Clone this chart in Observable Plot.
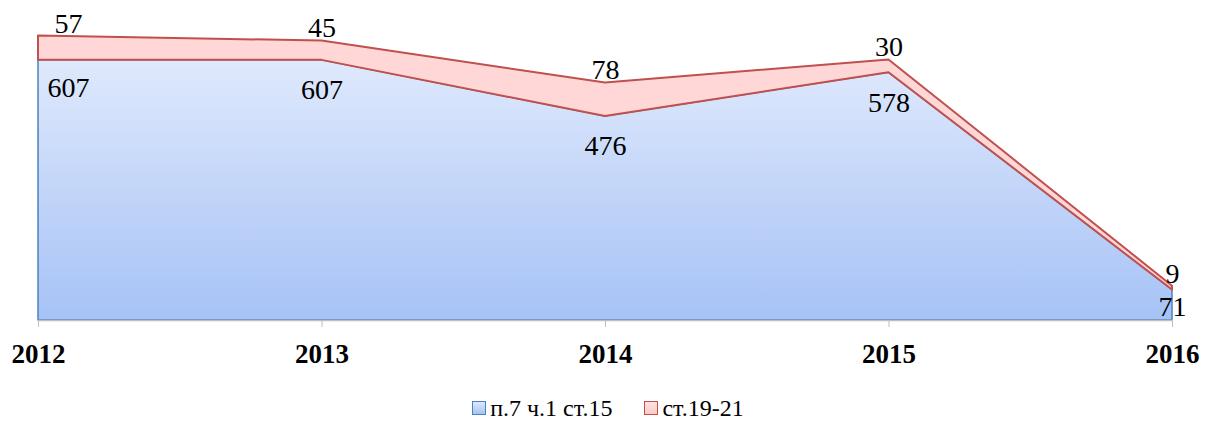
<!DOCTYPE html>
<html><head><meta charset="utf-8">
<script src="https://cdn.jsdelivr.net/npm/d3@7"></script>
<script src="https://cdn.jsdelivr.net/npm/@observablehq/plot@0.6"></script>
<style>
body{margin:0;background:#fff;font-family:"Liberation Serif","Times New Roman",serif;}
#legend{display:flex;justify-content:center;gap:32px;font-size:24px;margin-top:14px;line-height:28px;color:#000;font-family:"Liberation Serif","Times New Roman",serif;}
#legend span.sw{display:inline-block;width:12px;height:12px;margin-right:4px;vertical-align:1px;}
svg text{font-family:"Liberation Serif","Times New Roman",serif !important;}
</style></head>
<body><div id="chart"></div><div id="legend"></div>
<script>
const years = [2012, 2013, 2014, 2015, 2016];
const seriesNames = ["п.7 ч.1 ст.15", "ст.19-21"];
const blueValues = [607, 607, 476, 578, 71];
const redValues = [57, 45, 78, 30, 9];

const FONT = "Liberation Serif";
const rows = [];
years.forEach((yr, i) => {
  rows.push({year: yr, series: seriesNames[0], value: blueValues[i], top: blueValues[i]});
});
years.forEach((yr, i) => {
  rows.push({year: yr, series: seriesNames[1], value: redValues[i], top: blueValues[i] + redValues[i]});
});
const blueRows = rows.filter(d => d.series === seriesNames[0]);
const redRows = rows.filter(d => d.series === seriesNames[1]);
const first = years[0], last = years[years.length - 1];
const labelFont = {fontSize: 28, fill: "#000", fontFamily: FONT};

const plot = Plot.plot({
  width: 1216, height: 380,
  marginLeft: 38, marginRight: 44, marginTop: 20, marginBottom: 60,
  style: {fontFamily: FONT, background: "#fff"},
  x: {domain: [first, last], label: null},
  y: {domain: [0, 700], axis: null},
  marks: [
    Plot.areaY(blueRows, {x: "year", y: "value", fill: "url(#blueGrad)", stroke: "#4f81bd", strokeWidth: 1.5}),
    Plot.areaY(redRows, {x: "year", y1: d => d.top - d.value, y2: "top", fill: "#ffd7d7", stroke: "#c0504d", strokeWidth: 2}),
    Plot.ruleY([0], {stroke: "#bfbfbf", strokeWidth: 1.5}),
    Plot.axisX({ticks: years, tickFormat: d => String(d), tickSize: 7, tickPadding: 16, stroke: "#bfbfbf", fontSize: 27, fontWeight: "bold", fill: "#000", fontFamily: FONT, label: null}),
    // red labels
    Plot.text(redRows.filter(d => d.year === first), {x: "year", y: "top", text: "value", dy: -12, dx: 30, ...labelFont}),
    Plot.text(redRows.filter(d => d.year !== first && d.year !== last), {x: "year", y: "top", text: "value", dy: -13, ...labelFont}),
    Plot.text(redRows.filter(d => d.year === last), {x: "year", y: "top", text: "value", dy: -12, ...labelFont}),
    // blue labels
    Plot.text(blueRows.filter(d => d.year === first), {x: "year", y: "top", text: "value", dy: 28, dx: 30, ...labelFont}),
    Plot.text(blueRows.filter(d => d.year !== first && d.year !== last), {x: "year", y: "top", text: "value", dy: 30, ...labelFont}),
    Plot.text(blueRows.filter(d => d.year === last), {x: "year", y: "top", text: "value", dy: 17, ...labelFont})
  ]
});

const defs = d3.select(plot).insert("defs", ":first-child");
const g = defs.append("linearGradient").attr("id", "blueGrad").attr("x1", 0).attr("y1", 0).attr("x2", 0).attr("y2", 1);
g.append("stop").attr("offset", "0%").attr("stop-color", "#dfe9fc");
g.append("stop").attr("offset", "100%").attr("stop-color", "#a6c2f6");

document.getElementById("chart").appendChild(plot);

const legend = document.getElementById("legend");
const swatches = [
  {bg: "linear-gradient(#dfe9fc,#a6c2f6)", border: "#4f81bd"},
  {bg: "linear-gradient(#ffe3e3,#ffc8c8)", border: "#c0504d"}
];
seriesNames.forEach((name, i) => {
  const item = document.createElement("div");
  item.innerHTML = `<span class="sw" style="background:${swatches[i].bg};border:1.5px solid ${swatches[i].border}"></span>${name}`;
  legend.appendChild(item);
});
</script>
</body></html>
